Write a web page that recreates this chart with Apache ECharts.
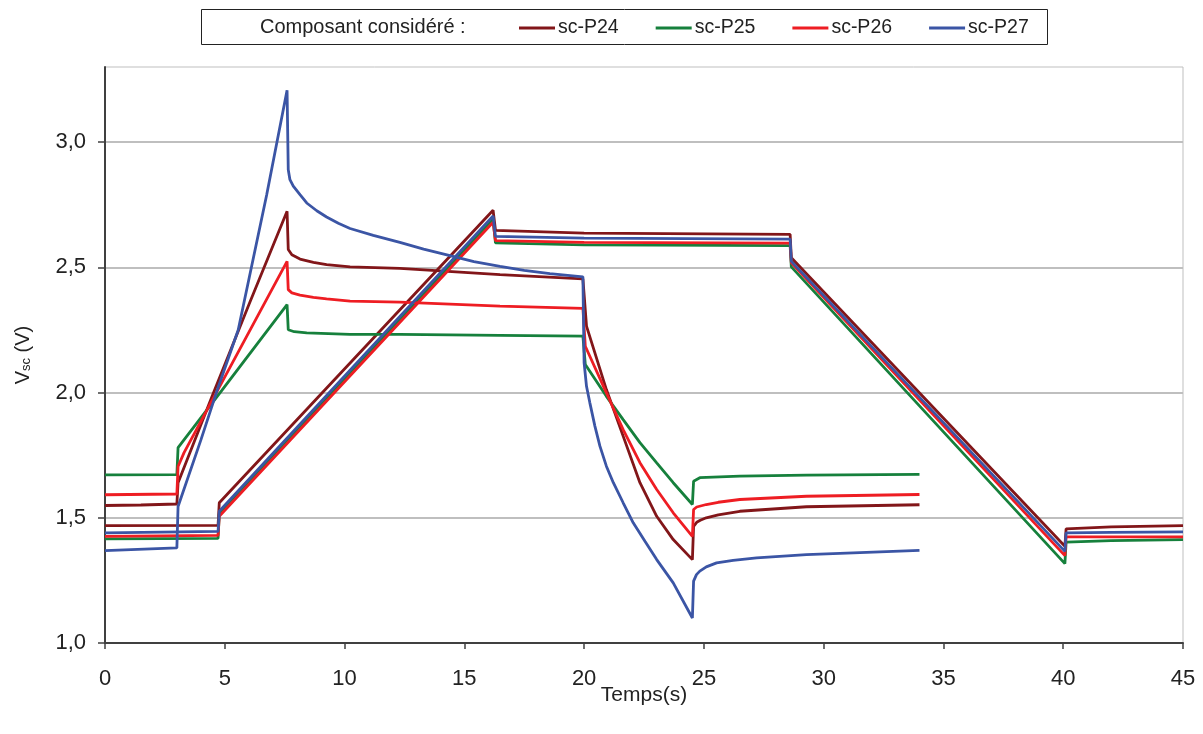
<!DOCTYPE html>
<html>
<head>
<meta charset="utf-8">
<script src="https://cdn.jsdelivr.net/npm/echarts@6/dist/echarts.min.js"></script>
<style>
html,body{margin:0;padding:0;background:#fff;}
#chart{width:1203px;height:734px;}
</style>
</head>
<body>
<div id="chart"></div>
<script>
// ---- Data ----
const seriesNames = ['sc-P24', 'sc-P25', 'sc-P26', 'sc-P27'];
const legendTitle = 'Composant considéré :';
const xTitle = 'Temps(s)';
const yTicks = [1.0, 1.5, 2.0, 2.5, 3.0];

// Test 1 (0 - 34 s)
const tP24a = [0, 1.5, 3.0, 3.05, 4.45, 6, 7.6, 7.65, 7.8, 8.14, 8.7, 9.25, 10.23, 12.31, 16.49, 19.95, 20.1, 20.93, 21.63, 22.33, 23.03, 23.72, 24.52, 24.57, 24.7, 24.85, 25.1, 25.6, 26.5, 29.28, 34];
const vP24a = [1.549, 1.551, 1.555, 1.64, 1.98, 2.35, 2.724, 2.571, 2.55, 2.533, 2.52, 2.511, 2.502, 2.496, 2.471, 2.454, 2.265, 2.012, 1.826, 1.64, 1.506, 1.413, 1.333, 1.466, 1.482, 1.49, 1.50, 1.512, 1.526, 1.544, 1.552];

const tP25a = [0, 3.0, 3.05, 4.87, 7.6, 7.65, 7.9, 8.42, 10.23, 12.31, 16.49, 19.95, 20.05, 20.93, 21.63, 22.33, 23.03, 23.72, 24.52, 24.57, 24.83, 26.5, 29.28, 34];
const vP25a = [1.671, 1.672, 1.78, 2.008, 2.351, 2.251, 2.243, 2.238, 2.232, 2.232, 2.228, 2.225, 2.112, 1.985, 1.892, 1.80, 1.719, 1.64, 1.553, 1.646, 1.66, 1.666, 1.67, 1.673];

const tP26a = [0, 3.0, 3.05, 3.3, 7.6, 7.65, 7.8, 8.14, 8.7, 9.25, 10.23, 12.31, 16.49, 19.95, 20.05, 20.93, 21.63, 22.33, 23.03, 23.72, 24.52, 24.57, 24.7, 25.1, 25.6, 26.5, 29.28, 34];
const vP26a = [1.592, 1.595, 1.705, 1.76, 2.524, 2.411, 2.398, 2.389, 2.38, 2.374, 2.365, 2.361, 2.345, 2.336, 2.185, 1.999, 1.852, 1.72, 1.613, 1.52, 1.426, 1.533, 1.543, 1.553, 1.562, 1.573, 1.586, 1.593];

const tP27a = [0, 3.0, 3.05, 4.0, 4.65, 5.56, 6.75, 7.6, 7.65, 7.72, 7.86, 8.14, 8.42, 8.84, 9.25, 9.74, 10.23, 11.2, 12.31, 13.3, 14.4, 15.4, 16.49, 17.5, 18.57, 19.95, 20.0, 20.1, 20.24, 20.45, 20.66, 20.93, 21.22, 21.63, 22.05, 22.54, 23.03, 23.72, 24.52, 24.57, 24.69, 24.83, 25.1, 25.53, 26.22, 27.2, 29.28, 32.07, 34];
const vP27a = [1.369, 1.38, 1.545, 1.81, 2.0, 2.25, 2.79, 3.207, 2.89, 2.85, 2.824, 2.79, 2.757, 2.726, 2.701, 2.676, 2.655, 2.628, 2.600, 2.573, 2.547, 2.523, 2.504, 2.488, 2.475, 2.462, 2.119, 2.025, 1.959, 1.866, 1.786, 1.706, 1.64, 1.56, 1.48, 1.406, 1.333, 1.24, 1.10, 1.247, 1.273, 1.287, 1.304, 1.32, 1.33, 1.34, 1.353, 1.363, 1.37];

// Test 2 (0 - 45 s)
const tB = [0, 4.72, 4.77, 16.2, 16.3, 20, 28.6, 28.65, 40.07, 40.12, 42, 45];
const vP24b = [1.469, 1.47, 1.56, 2.728, 2.648, 2.637, 2.632, 2.538, 1.386, 1.456, 1.464, 1.469];
const vP25b = [1.416, 1.418, 1.516, 2.693, 2.598, 2.590, 2.587, 2.502, 1.317, 1.403, 1.409, 1.413];
const vP26b = [1.426, 1.43, 1.506, 2.68, 2.607, 2.600, 2.597, 2.518, 1.349, 1.424, 1.424, 1.424];
const vP27b = [1.440, 1.446, 1.526, 2.705, 2.624, 2.617, 2.613, 2.524, 1.366, 1.44, 1.442, 1.444];

const colors = ['#821619', '#16803c', '#ee1d23', '#3b55a5'];

function zip(t, v) { return t.map((x, i) => [x, v[i]]); }

const curves = [
  [0, zip(tP24a, vP24a)], [0, zip(tB, vP24b)],
  [1, zip(tP25a, vP25a)], [1, zip(tB, vP25b)],
  [2, zip(tP26a, vP26a)], [2, zip(tB, vP26b)],
  [3, zip(tP27a, vP27a)], [3, zip(tB, vP27b)]
];

const FONT = "'Liberation Sans', Arial, sans-serif";

const chart = echarts.init(document.getElementById('chart'), null, {renderer: 'canvas'});
chart.setOption({
  animation: false,
  backgroundColor: '#fff',
  textStyle: {fontFamily: FONT},
  color: colors,
  grid: {left: 105, right: 20, top: 67, bottom: 91, show: true, borderColor: '#bfbfbf', borderWidth: 1},
  graphic: [
    {type: 'rect', left: 201, top: 9, shape: {width: 846, height: 35}, style: {fill: '#fff', stroke: '#222', lineWidth: 1}, z: 0},
    {type: 'text', left: 260, top: 17, style: {text: legendTitle, font: "20px " + FONT, fill: '#222'}, z: 1}
  ],
  legend: {
    data: seriesNames,
    left: 519, top: 18, padding: 0,
    icon: 'rect', itemWidth: 36, itemHeight: 3, itemGap: 37,
    textStyle: {fontSize: 19.5, color: '#222', fontFamily: FONT, padding: [0, 0, 0, -2]},
    z: 5
  },
  xAxis: {
    type: 'value', min: 0, max: 45, interval: 5,
    name: xTitle, nameLocation: 'middle', nameGap: 42, nameMoveOverlap: false,
    nameTextStyle: {fontSize: 21, color: '#222', fontFamily: FONT},
    axisLine: {show: true, lineStyle: {color: '#404040', width: 2}},
    axisTick: {show: true, inside: false, length: 6, lineStyle: {color: '#404040', width: 1.5}},
    axisLabel: {fontSize: 22, color: '#222', margin: 25, fontFamily: FONT},
    splitLine: {show: false}
  },
  yAxis: {
    type: 'value', min: 1, max: 3.3, interval: 0.5,
    name: '{v|V}{s|sc}{v| (V)}', nameLocation: 'middle', nameGap: 72, nameRotate: 90, nameMoveOverlap: false,
    nameTextStyle: {
      color: '#222', fontFamily: FONT,
      rich: {
        v: {fontSize: 20, fontFamily: FONT, color: '#222', verticalAlign: 'bottom', lineHeight: 24},
        s: {fontSize: 13, fontFamily: FONT, color: '#222', verticalAlign: 'bottom', lineHeight: 14}
      }
    },
    axisLine: {show: true, lineStyle: {color: '#404040', width: 2}},
    axisTick: {show: true, inside: false, length: 7, customValues: yTicks, lineStyle: {color: '#404040', width: 1.5}},
    axisLabel: {
      fontSize: 22, color: '#222', margin: 19, fontFamily: FONT, customValues: yTicks,
      formatter: function (v) {
        if (Math.abs(v * 2 - Math.round(v * 2)) > 1e-6) return '';
        return v.toFixed(1).replace('.', ',');
      }
    },
    splitLine: {show: true, lineStyle: {color: '#bfbfbf', width: 2}}
  },
  series: curves.map(function (c) {
    return {
      name: seriesNames[c[0]],
      type: 'line',
      data: c[1],
      showSymbol: false,
      symbol: 'none',
      lineStyle: {width: 2.8, color: colors[c[0]]},
      itemStyle: {color: colors[c[0]]},
      z: 2 + c[0]
    };
  })
});
</script>
</body>
</html>
